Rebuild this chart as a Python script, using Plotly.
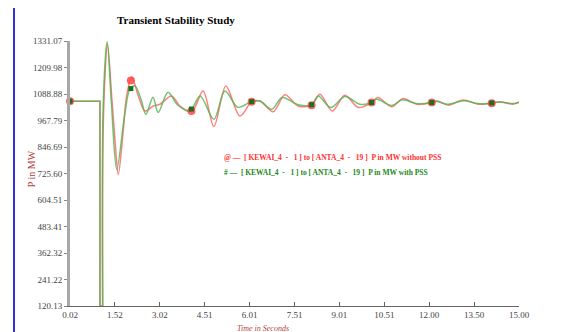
import numpy as np
import plotly.graph_objects as go

# ---------------- data ----------------
# pre-fault and fault period (shared by both series)
t_pre = [0.02, 1.02, 1.02, 1.11]
p_pre = [1056, 1056, 120.13, 120.13]

# post-fault: without PSS (red)
t_red = [1.11, 1.14, 1.27, 1.41, 1.52, 1.63, 1.80, 1.91, 2.08, 2.30, 2.52, 2.80, 3.02,
         3.41, 3.69, 4.09, 4.46, 4.82, 5.22, 5.69, 6.08, 6.36, 6.80, 7.19, 7.63, 8.08,
         8.36, 8.77, 9.19, 9.64, 10.08, 10.29, 10.75, 11.14, 11.59, 12.09, 12.25, 12.64,
         13.14, 13.64, 14.09, 14.36, 14.80, 15.00]
p_red = [120.13, 1000, 1317, 1080, 881, 721, 927, 1080, 1166, 1080, 1011, 1034, 1042,
         1080, 1034, 1010, 1103, 940, 1126, 988, 1053, 1057, 1008, 1085, 1034, 1037,
         1088, 1011, 1083, 1027, 1050, 1073, 1031, 1068, 1042, 1050, 1058, 1038,
         1062, 1042, 1047, 1053, 1042, 1053]

# post-fault: with PSS (green)
t_green = [1.11, 1.13, 1.26, 1.40, 1.58, 1.85, 2.02, 2.19, 2.40, 2.55, 2.79, 2.96, 3.29,
           3.60, 4.02, 4.36, 4.82, 5.19, 5.62, 6.08, 6.36, 6.75, 7.10, 7.63, 8.08, 8.30,
           8.72, 9.19, 9.70, 10.08, 10.25, 10.75, 11.10, 11.59, 12.09, 12.25, 12.64,
           13.14, 13.64, 14.09, 14.36, 14.80, 15.00]
p_green = [120.13, 1050, 1328, 1050, 744, 1000, 1111, 1126, 1060, 996, 1074, 1005, 1097,
           1040, 1010, 1080, 973, 1103, 1028, 1054, 1057, 1019, 1073, 1040, 1040, 1080,
           1027, 1077, 1042, 1050, 1065, 1036, 1062, 1045, 1050, 1055, 1042, 1058,
           1045, 1048, 1052, 1045, 1050]

marker_t = [0.02, 2.05, 4.07, 6.08, 8.08, 10.08, 12.09, 14.09]

y_ticks = [120.13, 241.22, 362.32, 483.41, 604.51, 725.60, 846.69, 967.79, 1088.88, 1209.98, 1331.07]
y_tick_text = ["120.13", "241.22", "362.32", "483.41", "604.51", "725.60", "846.69",
               "967.79", "1088.88", "1209.98", "1331.07"]
x_ticks = [0.02, 1.52, 3.02, 4.51, 6.01, 7.51, 9.01, 10.51, 12.00, 13.50, 15.00]
x_tick_text = ["0.02", "1.52", "3.02", "4.51", "6.01", "7.51", "9.01", "10.51", "12.00", "13.50", "15.00"]

title_text = "Transient Stability Study"
legend_red = "@ \u2014  [ KEWAI_4  -   1 ] to [ ANTA_4  -   19 ]  P in MW without PSS"
legend_green = "# \u2014  [ KEWAI_4  -   1 ] to [ ANTA_4  -   19 ]  P in MW with PSS"

# ---------------- figure ----------------
RED = "rgba(255,95,95,0.8)"
GREEN = "rgba(80,180,80,0.8)"

def interp_series(tp, pp, tpost, ppost, tq):
    tt = list(tp[:2]) + list(tpost)
    vv = list(pp[:2]) + list(ppost)
    return np.interp(tq, tt, vv)

fig = go.Figure()
# red (without PSS)
fig.add_trace(go.Scatter(x=t_pre, y=p_pre, mode="lines", line=dict(color=RED, width=1.5),
                         showlegend=False, hoverinfo="skip"))
fig.add_trace(go.Scatter(x=t_red, y=p_red, mode="lines",
                         line=dict(color=RED, width=1.5, shape="spline", smoothing=0.9),
                         showlegend=False))
# green (with PSS)
fig.add_trace(go.Scatter(x=t_pre, y=p_pre, mode="lines", line=dict(color=GREEN, width=1.5),
                         showlegend=False, hoverinfo="skip"))
fig.add_trace(go.Scatter(x=t_green, y=p_green, mode="lines",
                         line=dict(color=GREEN, width=1.5, shape="spline", smoothing=0.9),
                         showlegend=False))
# markers
fig.add_trace(go.Scatter(x=marker_t, y=interp_series(t_pre, p_pre, t_red, p_red, marker_t),
                         mode="markers", marker=dict(color="rgba(255,60,60,0.8)", size=8),
                         showlegend=False, cliponaxis=False))
fig.add_trace(go.Scatter(x=marker_t, y=interp_series(t_pre, p_pre, t_green, p_green, marker_t),
                         mode="markers", marker=dict(color="#1e6e1e", size=5, symbol="square"),
                         showlegend=False, cliponaxis=False))

tickfont = dict(family="Liberation Serif", size=9, color="#444444")
fig.update_xaxes(range=[0.02, 15.0], tickvals=x_ticks, ticktext=x_tick_text,
                 showline=True, linecolor="#666666", linewidth=1,
                 ticks="inside", ticklen=4, tickcolor="#666666",
                 showgrid=False, zeroline=False, tickfont=tickfont)
fig.update_yaxes(range=[120.13, 1331.07], tickvals=y_ticks, ticktext=y_tick_text,
                 showline=True, linecolor="#a8a8a8", linewidth=3,
                 ticks="outside", ticklen=3, tickcolor="#888888",
                 showgrid=False, zeroline=False, tickfont=tickfont)

annotations = [
    dict(text="<b>" + title_text + "</b>", x=0.236, y=1.079, xref="paper", yref="paper",
         xanchor="center", yanchor="middle", showarrow=False,
         font=dict(family="Liberation Serif", size=11, color="#000000")),
    dict(text="P in MW", x=-0.087, y=0.52, xref="paper", yref="paper", textangle=-90,
         xanchor="center", yanchor="middle", showarrow=False,
         font=dict(family="Liberation Serif", size=10, color="#b84040")),
    dict(text="<i>Time in Seconds</i>", x=0.43, y=-0.085, xref="paper", yref="paper",
         xanchor="center", yanchor="middle", showarrow=False,
         font=dict(family="Liberation Serif", size=8, color="#b84040")),
    dict(text="<b>" + legend_red + "</b>", x=0.338, y=0.562, xref="paper", yref="paper",
         xanchor="left", yanchor="middle", showarrow=False,
         font=dict(family="Liberation Serif", size=7.5, color="#ff3030")),
    dict(text="<b>" + legend_green + "</b>", x=0.338, y=0.502, xref="paper", yref="paper",
         xanchor="left", yanchor="middle", showarrow=False,
         font=dict(family="Liberation Serif", size=7.5, color="#208a20")),
]

shapes = [
    dict(type="line", xref="paper", yref="paper", x0=-0.1247, x1=1.2, y0=1.128, y1=1.128,
         line=dict(color="#3030e0", width=2)),
    dict(type="line", xref="paper", yref="paper", x0=-0.1247, x1=-0.1247, y0=1.128, y1=-0.2,
         line=dict(color="#3030e0", width=2)),
]

# page body has an 8px margin, so the figure is sized to fit the 571x332 window
fig.update_layout(width=563, height=324, margin=dict(l=62, r=52, t=33, b=26),
                  plot_bgcolor="white", paper_bgcolor="white",
                  annotations=annotations, shapes=shapes, showlegend=False)

fig.write_html("out.html")
